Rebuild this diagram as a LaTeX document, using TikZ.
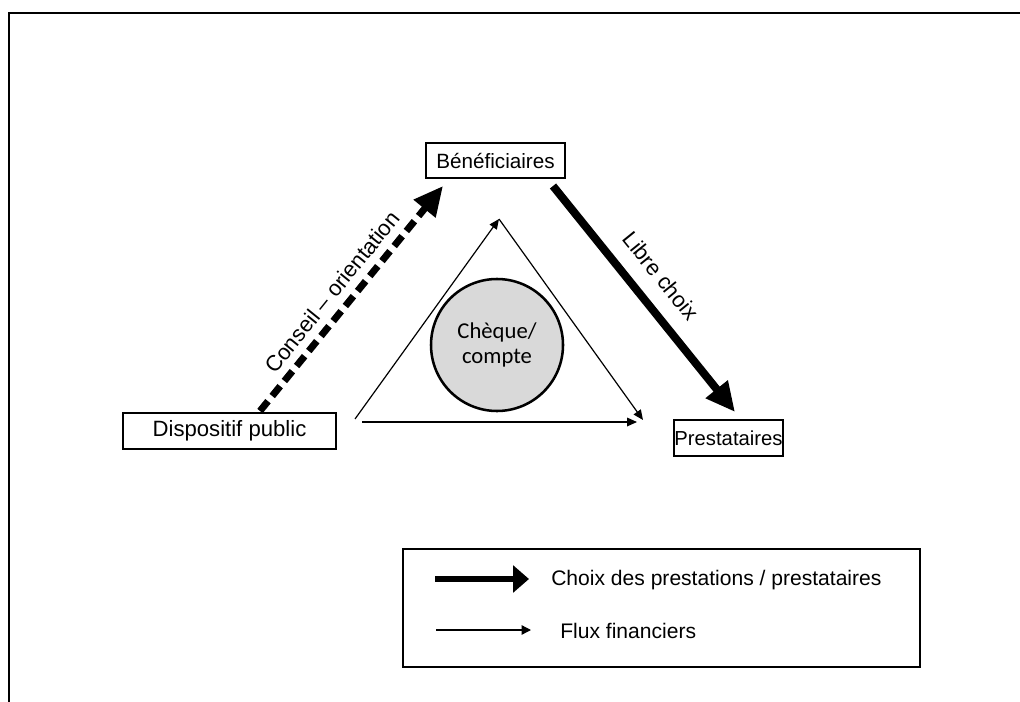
\documentclass[tikz,border=0pt]{standalone}
\usepackage{fontspec}
\setmainfont{Liberation Sans}
\newfontfamily\calib{Carlito}
\usetikzlibrary{arrows.meta}
\begin{document}
\begin{tikzpicture}[x=0.75pt,y=-0.75pt,
  txt/.style={font=\fontsize{#1}{18}\selectfont},
  txt/.default=16,
  box/.style={draw, line width=1.1pt, inner sep=0pt},
  frame/.style={line width=2.2pt},
  thick arrow/.style={line width=6pt, -{Triangle[length=22pt,width=20pt]}},
  dash arrow/.style={line width=5.2pt, dash pattern=on 9.5pt off 5pt, -{Triangle[length=22pt,width=20pt]}},
  thin arrow/.style={line width=0.9pt, -{Triangle[length=7.5pt,width=6.5pt]}},
  rlabel/.style={txt=16.5, inner sep=0pt}
]
\useasboundingbox (0,0) rectangle (1020,702);
% frame
\coordinate (fTR) at (1020,13);
\coordinate (fTL) at (9,13);
\coordinate (fBL) at (9,702);
\draw[frame] (fTR) -- (fTL) -- (fBL);

% boxes
\node[box, txt=15.5, minimum width=104.25pt, minimum height=26.25pt] (bene) at (495.5,160.5) {Bénéficiaires};
\node[box, txt=16.6, minimum width=159.75pt, minimum height=27pt] (disp) at (229.5,431) {Dispositif public};
\node[box, txt=15.2, minimum width=81.75pt, minimum height=27pt] (prest) at (728.5,438) {Prestataires};

% circle
\node[draw, circle, line width=1.9pt, fill=black!15, minimum size=99pt, inner sep=0pt,
      font=\calib\fontsize{17}{19}\selectfont, align=center] (cheque) at (497,345) {Chèque/\\compte};

% triangle of financial flows
\coordinate (tL) at (355,419);
\coordinate (tA) at (499,219);
\coordinate (tR) at (643,420);
\coordinate (bL) at (362,422);
\coordinate (bR) at (637,422);
\draw[thin arrow] (tL) -- (tA);
\draw[thin arrow] (tA) -- (tR);
\draw[thin arrow] (bL) -- (bR);

% conseil arrow
\coordinate (dS) at (260,411);
\coordinate (dE) at (443,186);
\draw[dash arrow] (dS) -- (dE);
\node[rlabel, rotate=51] (lconseil) at (332,292) {Conseil – orientation};

% libre choix arrow
\coordinate (lS) at (553,186);
\coordinate (lE) at (735,412);
\draw[thick arrow] (lS) -- (lE);
\node[rlabel, rotate=-51] (llibre) at (661,276) {Libre choix};

% legend
\node[draw, line width=1.3pt, minimum width=387.75pt, minimum height=88.5pt, inner sep=0pt] (legend) at (661.5,608) {};
\coordinate (k1S) at (435,579);
\coordinate (k1E) at (529,579);
\draw[line width=5pt, -{Triangle[length=12pt,width=20pt]}] (k1S) -- (k1E);
\node[txt=15.8, anchor=west, inner sep=0pt] (k1t) at (551,580) {Choix des prestations / prestataires};
\coordinate (k2S) at (436,630);
\coordinate (k2E) at (531,630);
\draw[line width=1pt, -{Triangle[length=7pt,width=7pt]}] (k2S) -- (k2E);
\node[txt=15.8, anchor=west, inner sep=0pt] (k2t) at (560,631) {Flux financiers};
\end{tikzpicture}
\end{document}
